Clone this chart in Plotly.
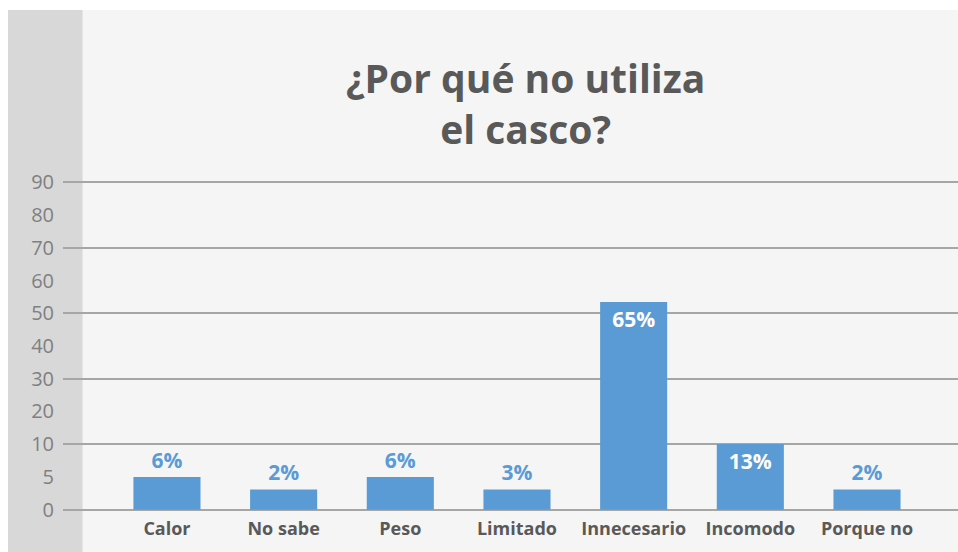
import plotly.graph_objects as go

categories = ["Calor", "No sabe", "Peso", "Limitado", "Innecesario", "Incomodo", "Porque no"]
axis_values = [5, 3.1, 5, 3.1, 53.4, 10.1, 3.1]
value_labels = ["6%", "2%", "6%", "3%", "65%", "13%", "2%"]
tick_labels = [0, 5, 10, 20, 30, 40, 50, 60, 70, 80, 90]
grid_labels = [0, 10, 30, 50, 70, 90]


def to_axis(v):
    # the original chart's axis is uneven: 0-5-10 then steps of 10
    return v / 5 if v <= 10 else 2 + (v - 10) / 10


W, H = 958, 552
L, R, T, B = 63, 0, 179, 39
pw, ph = W - L - R, H - T - B


def px_x(px):
    return (px - L) / pw


def px_y(py):
    return (H - B - py) / ph


BLUE = "#5b9bd5"
inside = [v > 10 - 0.5 for v in axis_values]
textpos = ["inside" if i else "outside" for i in inside]
textcol = ["#ffffff" if i else BLUE for i in inside]
vfont = dict(family="Open Sans", size=21, color=textcol, weight="bold")

fig = go.Figure(
    go.Bar(
        x=categories,
        y=[to_axis(v) for v in axis_values],
        marker=dict(color=BLUE, line=dict(width=0)),
        width=0.575,
        text=value_labels,
        textposition=textpos,
        insidetextanchor="end",
        textfont=vfont,
        outsidetextfont=vfont,
        insidetextfont=vfont,
        textangle=0,
        constraintext="none",
        cliponaxis=False,
        hoverinfo="skip",
    )
)

fig.update_layout(
    width=W,
    height=H,
    margin=dict(l=L, r=R, t=T, b=B, pad=0),
    paper_bgcolor="#ffffff",
    plot_bgcolor="rgba(0,0,0,0)",
    showlegend=False,
    shapes=[
        dict(type="rect", xref="paper", yref="paper",
             x0=px_x(8), x1=px_x(W + 2), y0=px_y(H + 2), y1=px_y(10),
             fillcolor="#f5f5f5", line=dict(width=0), layer="below"),
        dict(type="rect", xref="paper", yref="paper",
             x0=px_x(8), x1=px_x(82.5), y0=px_y(H + 2), y1=px_y(10),
             fillcolor="#d8d8d8", line=dict(width=0), layer="below"),
    ],
    annotations=[
        dict(text="¿Por qué no utiliza<br>el casco?", xref="paper", yref="paper",
             x=px_x(525), y=px_y(103), xanchor="center", yanchor="middle",
             showarrow=False,
             font=dict(family="Open Sans", size=39, color="#595959", weight="bold")),
    ],
)

fig.update_xaxes(
    range=[-0.891, 6.78],
    showgrid=False,
    zeroline=False,
    showline=False,
    ticks="",
    ticklabelstandoff=3,
    tickfont=dict(family="Open Sans", size=18, color="#595959", weight="bold"),
)

fig.update_yaxes(
    range=[-0.1, 10.1],
    tickvals=[to_axis(v) for v in tick_labels],
    ticktext=[str(v) for v in tick_labels],
    showgrid=False,
    zeroline=False,
    showline=False,
    ticks="",
    ticklabelstandoff=8,
    tickfont=dict(family="Open Sans", size=20, color="#808080"),
    minor=dict(tickvals=[to_axis(v) for v in grid_labels], showgrid=True,
               gridcolor="#a6a6a6", gridwidth=2, ticks=""),
)

fig.write_html("out.html")
